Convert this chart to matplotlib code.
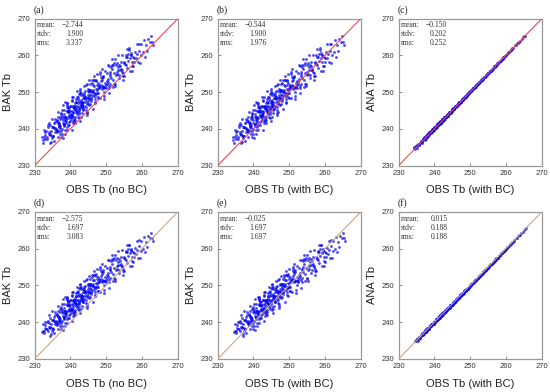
import matplotlib
matplotlib.use("Agg")
import matplotlib.pyplot as plt
import numpy as np

# OBS Tb without bias correction (same observations in both experiments)
obs_nobc = [
    232.1, 233.5, 232.7, 233.9, 232.4, 233.2, 232.9, 233.7, 232.2, 233.0, 233.4, 232.6, 233.8, 232.8,
    234.3, 235.6, 234.9, 235.2, 234.1, 235.8, 234.6, 235.4, 234.8, 235.0, 234.2, 235.7, 234.5, 235.3, 234.7, 235.9, 234.0, 235.5, 234.4, 235.1, 234.9, 235.6, 234.3, 235.2,
    236.2, 237.5, 236.8, 237.1, 236.4, 237.8, 236.6, 237.3, 236.0, 237.6, 236.9, 237.2, 236.3, 237.9, 236.7, 237.4, 236.1, 237.0, 236.5, 237.7, 236.8, 237.3, 236.2, 237.5, 236.9, 237.1, 236.4, 237.8, 236.6, 237.2, 236.3, 237.6, 236.7, 237.4,
    238.1, 239.4, 238.7, 239.0, 238.3, 239.8, 238.5, 239.2, 238.9, 239.6, 238.2, 239.5, 238.8, 239.1, 238.4, 239.7, 238.6, 239.3, 238.0, 239.9, 238.7, 239.4, 238.3, 239.0, 238.5, 239.6, 238.9, 239.2, 238.1, 239.8, 238.6, 239.5, 238.4, 239.1, 238.8, 239.3, 238.2, 239.7, 238.5, 239.0, 238.9, 239.4, 238.3, 239.6,
    240.2, 241.5, 240.8, 241.1, 240.4, 241.9, 240.6, 241.3, 240.0, 241.7, 240.9, 241.2, 240.3, 241.6, 240.7, 241.0, 240.5, 241.8, 240.1, 241.4, 240.8, 241.2, 240.4, 241.5, 240.6, 241.9, 240.2, 241.3, 240.9, 241.1, 240.3, 241.7, 240.5, 241.0, 240.7, 241.6, 240.1, 241.4, 240.8, 241.8, 240.4, 241.2, 240.6, 241.5, 240.2, 241.3,
    242.3, 243.6, 242.9, 243.1, 242.5, 243.8, 242.1, 243.4, 242.7, 243.0, 242.4, 243.7, 242.8, 243.2, 242.0, 243.5, 242.6, 243.9, 242.2, 243.3, 242.9, 243.1, 242.4, 243.6, 242.7, 243.0, 242.3, 243.8, 242.5, 243.4, 242.1, 243.2, 242.8, 243.7, 242.6, 243.5, 242.2, 243.0, 242.9, 243.3, 242.4, 243.9, 242.7, 243.1,
    244.2, 245.5, 244.8, 245.1, 244.4, 245.8, 244.6, 245.3, 244.0, 245.7, 244.9, 245.2, 244.3, 245.6, 244.7, 245.0, 244.5, 245.9, 244.1, 245.4, 244.8, 245.2, 244.3, 245.5, 244.6, 245.8, 244.2, 245.1, 244.9, 245.3, 244.4, 245.6, 244.7, 245.0, 244.5, 245.4, 244.1, 245.7,
    246.3, 247.6, 246.9, 247.1, 246.5, 247.8, 246.1, 247.4, 246.7, 247.0, 246.4, 247.7, 246.8, 247.2, 246.0, 247.5, 246.6, 247.9, 246.2, 247.3, 246.9, 247.1, 246.4, 247.6, 246.7, 247.0, 246.3, 247.8, 246.5, 247.4, 246.1, 247.2,
    248.2, 249.5, 248.8, 249.1, 248.4, 249.8, 248.6, 249.3, 248.0, 249.7, 248.9, 249.2, 248.3, 249.6, 248.7, 249.0, 248.5, 249.9, 248.1, 249.4, 248.8, 249.2, 248.4, 249.5, 248.6, 249.1,
    250.3, 251.6, 250.9, 251.1, 250.5, 251.8, 250.1, 251.4, 250.7, 251.0, 250.4, 251.7, 250.8, 251.2, 250.0, 251.5, 250.6, 251.9, 250.2, 251.3, 250.9, 251.1,
    252.2, 253.5, 252.8, 253.1, 252.4, 253.8, 252.6, 253.3, 252.0, 253.7, 252.9, 253.2, 252.3, 253.6, 252.7, 253.0, 252.5, 253.9, 252.1, 253.4,
    254.3, 255.6, 254.9, 255.1, 254.5, 255.8, 254.1, 255.4, 254.7, 255.0, 254.4, 255.7, 254.8, 255.2, 254.0, 255.5, 254.6, 255.9,
    256.2, 257.5, 256.8, 257.1, 256.4, 257.8, 256.6, 257.3, 256.0, 257.7, 256.9, 257.2, 256.3, 257.6, 256.7, 257.0,
    258.3, 259.6, 258.9, 259.1, 258.5, 259.8, 258.1, 259.4, 258.7, 259.2,
    260.4, 261.7, 260.9, 261.2, 260.6, 261.5,
    262.2, 263.0, 262.6, 262.9,
]

# BAK - OBS(no BC) departures, experiment 1 (top row)
bak_dep_top = [
    5.8, 4.2, 6.9, 5.1, 3.6, 6.3, 5.5, 7.4, 4.7, 6.0, 3.9, 5.3, 6.6, 4.5,
    4.1, 6.2, 2.5, 5.3, 7.6, 3.4, 4.9, 1.2, 5.8, 3.0, 6.7, 4.4, 2.0, 5.0, 8.1, 3.7, 4.6, 6.0, 1.7, 5.5, 3.2, 7.0, 4.2, 2.8,
    3.1, 5.9, 4.5, 1.6, 6.8, 3.8, 5.2, 0.4, 4.0, 7.5, 2.6, 5.6, 3.4, 8.6, 4.8, 2.1, 6.3, 3.7, 5.0, 0.9, 4.3, 7.0, 2.9, 5.4, 3.5, 6.1, 1.3, 4.7, 8.0, 3.0, 5.8, 2.4, 4.1, 6.6,
    2.8, 5.5, 4.0, 0.6, 6.9, 3.3, 4.7, 1.9, 8.2, 3.9, 5.8, 2.4, 4.4, 7.3, 1.2, 5.1, 3.6, 6.4, -0.5, 4.9, 2.9, 5.3, 3.1, 7.9, 4.6, 1.5, 6.0, 3.7, 5.0, 2.2, 8.8, 4.3, 0.2, 5.7, 3.4, 6.7, 2.6, 4.8, 4.1, 7.0, 1.7, 5.4, 3.0, 6.2,
    3.5, 5.9, 1.4, 4.6, 7.4, 2.7, 4.1, 0.3, 6.3, 3.2, 5.1, 2.0, 8.3, 3.8, 5.6, 1.0, 4.4, 6.8, 2.5, 3.6, 7.9, 4.9, -0.6, 3.0, 5.3, 2.2, 6.1, 4.0, 1.7, 5.0, 3.4, 8.6, 2.9, 4.7, 0.8, 6.5, 3.9, 5.5, 2.4, 4.3, 7.1, 1.3, 3.7, 5.8, 3.1, 4.5,
    2.4, 4.8, 6.9, 3.3, 0.5, 5.4, 3.9, 1.8, 7.7, 4.2, 2.9, 6.0, -0.7, 3.6, 5.1, 2.1, 8.3, 4.5, 1.1, 3.0, 6.4, 4.0, 2.6, 5.7, 3.4, 0.2, 7.2, 4.7, 1.5, 3.8, 5.9, 2.8, 4.3, 8.0, 3.1, 1.9, 6.6, 3.6, 4.9, 0.9, 5.3, 2.3, 7.0, 4.1,
    3.9, 1.2, 5.6, 2.7, 7.4, 3.3, 0.1, 4.6, 6.2, 2.0, 3.7, 8.0, 1.6, 5.0, 2.9, 4.2, -0.8, 6.7, 3.1, 4.8, 2.3, 5.4, 0.8, 3.6, 7.7, 2.6, 4.4, 1.4, 5.9, 3.0, 4.0, 6.5, 2.1, 3.4, -0.3, 5.2, 4.7, 2.5,
    2.6, 4.9, 0.5, 3.7, 6.8, 1.9, 4.3, 7.6, 2.9, 0.0, 5.5, 3.4, 1.3, 6.2, 4.0, 2.3, 7.9, 3.1, -0.9, 4.6, 2.0, 5.8, 3.6, 1.0, 6.5, 2.8, 4.4, 0.7, 5.2, 3.3, 7.2, 2.4,
    3.2, 0.6, 5.1, 2.4, 7.0, 1.5, 4.3, -1.2, 3.7, 6.0, 2.0, 4.8, 0.1, 3.0, 7.5, 2.7, 5.6, 1.1, 3.9, -0.4, 4.5, 2.2, 6.5, 1.7, 3.4, 5.3,
    2.0, 4.6, 0.3, 3.3, 6.8, 1.4, 2.9, 5.5, -1.0, 3.8, 2.4, 7.2, 0.9, 4.2, 1.8, 5.9, 3.0, -0.5, 4.9, 2.6, 6.3, 1.2,
    2.9, 0.4, 4.5, 1.7, 6.5, 2.2, -0.9, 3.6, 5.3, 1.0, 2.7, 6.9, 0.0, 3.9, 1.9, 4.8, -0.3, 3.1, 5.7, 2.5,
    1.6, 3.9, -0.6, 2.8, 5.6, 0.8, 2.2, 4.6, -1.5, 3.3, 1.2, 6.0, 0.3, 2.5, 4.2, 1.9, -0.2, 3.6,
    2.3, -0.4, 3.8, 1.2, 5.2, 0.5, 2.8, -1.6, 4.4, 1.6, 3.3, 0.0, 5.6, 2.0, -0.9, 3.0,
    1.0, 3.4, -0.8, 2.2, 4.5, 0.3, 2.8, -1.4, 1.7, 3.9,
    0.4, 2.7, -1.2, 1.6, 3.6, -0.3,
    1.5, -0.2, 2.6, 0.8,
]

# BAK - OBS(no BC) departures, experiment 2 (bottom row)
bak_dep_bot = [
    5.2, 6.6, 4.3, 5.9, 7.1, 4.8, 6.2, 3.9, 5.5, 6.9, 4.6, 5.0, 6.4, 5.7,
    4.5, 6.3, 2.6, 5.4, 7.8, 3.6, 4.8, 1.5, 5.9, 3.2, 6.8, 4.2, 2.2, 5.1, 8.2, 3.9, 4.6, 6.0, 1.9, 5.6, 3.4, 7.2, 4.1, 3.0,
    3.3, 5.8, 4.4, 1.8, 6.6, 3.9, 5.1, 0.9, 4.2, 7.4, 2.8, 5.5, 3.6, 8.3, 4.7, 2.3, 6.1, 3.8, 5.0, 1.2, 4.3, 6.9, 3.0, 5.3, 3.5, 6.4, 1.6, 4.8, 7.9, 3.1, 5.7, 2.6, 4.0, 6.2,
    2.9, 5.3, 4.0, 0.8, 6.7, 3.4, 4.6, 2.0, 7.9, 3.8, 5.6, 2.5, 4.3, 7.1, 1.3, 5.0, 3.5, 6.2, -0.1, 4.7, 3.0, 5.2, 3.2, 7.6, 4.4, 1.6, 5.9, 3.7, 4.9, 2.3, 8.3, 4.2, 0.5, 5.5, 3.3, 6.5, 2.7, 4.6, 4.0, 6.9, 1.9, 5.2, 3.1, 6.0,
    3.4, 5.6, 1.7, 4.4, 7.0, 2.8, 4.0, 0.6, 6.1, 3.2, 5.0, 2.1, 7.8, 3.7, 5.4, 1.3, 4.3, 6.5, 2.6, 3.5, 7.5, 4.7, 0.0, 3.0, 5.1, 2.3, 5.9, 3.9, 1.9, 4.8, 3.3, 8.0, 2.9, 4.5, 1.0, 6.3, 3.8, 5.3, 2.5, 4.2, 6.8, 1.5, 3.6, 5.7, 3.1, 4.4,
    2.5, 4.7, 6.6, 3.3, 0.8, 5.2, 3.8, 2.0, 7.3, 4.1, 3.0, 5.8, -0.3, 3.5, 5.0, 2.2, 7.7, 4.4, 1.3, 3.1, 6.2, 3.9, 2.7, 5.5, 3.4, 0.5, 6.9, 4.6, 1.7, 3.7, 5.7, 2.9, 4.2, 7.5, 3.1, 2.0, 6.4, 3.6, 4.8, 1.1, 5.1, 2.4, 6.7, 4.0,
    3.7, 1.3, 5.3, 2.7, 7.0, 3.2, 0.3, 4.4, 5.9, 2.0, 3.5, 7.4, 1.6, 4.8, 2.8, 4.0, -0.6, 6.3, 3.0, 4.6, 2.3, 5.1, 0.9, 3.4, 7.2, 2.5, 4.2, 1.4, 5.6, 2.9, 3.8, 6.1, 2.1, 3.3, -0.2, 5.0, 4.5, 2.4,
    2.5, 4.6, 0.6, 3.5, 6.4, 1.9, 4.1, 7.1, 2.8, 0.1, 5.2, 3.2, 1.3, 5.9, 3.8, 2.2, 7.3, 3.0, -0.8, 4.4, 2.0, 5.5, 3.4, 1.0, 6.1, 2.7, 4.2, 0.7, 4.9, 3.1, 6.8, 2.3,
    3.0, 0.5, 4.8, 2.2, 6.6, 1.4, 4.0, -1.3, 3.5, 5.7, 1.9, 4.5, 0.0, 2.8, 7.0, 2.5, 5.3, 1.0, 3.7, -0.6, 4.2, 2.0, 6.2, 1.6, 3.2, 5.0,
    1.8, 4.3, 0.1, 3.0, 6.4, 1.2, 2.7, 5.2, -1.3, 3.5, 2.2, 6.7, 0.7, 3.9, 1.6, 5.6, 2.8, -0.8, 4.6, 2.4, 5.9, 1.0,
    2.5, 0.0, 4.1, 1.3, 6.0, 1.8, -1.3, 3.2, 4.9, 0.6, 2.3, 6.1, -0.4, 3.5, 1.5, 4.4, -0.8, 2.7, 5.3, 2.1,
    1.1, 3.4, -1.1, 2.3, 5.1, 0.3, 1.7, 4.1, -2.0, 2.8, 0.7, 5.4, -0.2, 2.0, 3.7, 1.4, -0.7, 3.1,
    1.7, -1.0, 3.2, 0.6, 4.5, -0.1, 2.2, -2.1, 3.8, 1.0, 2.7, -0.6, 4.8, 1.4, -1.5, 2.4,
    0.3, 2.6, -1.5, 1.5, 3.6, -0.4, 2.0, -2.0, 1.0, 3.1,
    -0.4, 1.8, -1.9, 0.7, 2.7, -1.0,
    0.8, -0.9, 1.7, 0.1,
]

# constant bias corrections applied to OBS
bc_top = 2.2
bc_bot = 2.55

# ANA - OBS(with BC) departures
ana_dep_top = [
    0.5, -0.2, 0.3, 0.7, 0.0, 0.4, -0.4, 0.2, 0.6, 0.1,
    -0.1, 0.4, 0.2, 0.6, -0.3, 0.3, 0.0, 0.5, 0.1, -0.2,
    0.4, 0.2, 0.7, -0.1, 0.3, 0.0, 0.5, -0.3, 0.2, 0.4,
    0.1, 0.6, -0.2, 0.3, 0.0, 0.4, 0.2, -0.4, 0.5, 0.1,
    0.3, -0.1, 0.6, 0.2, 0.0, 0.4, -0.2, 0.3, 0.1, 0.5,
    0.2, 0.0, 0.4, -0.3, 0.6, 0.1, 0.3, -0.1, 0.2, 0.5,
    0.0, 0.3, -0.2, 0.4, 0.1, 0.6, 0.2, -0.1, 0.3, 0.0,
    0.5, 0.1, 0.2, -0.3, 0.4, 0.0, 0.3, 0.6, -0.1, 0.2,
    0.1, 0.4, -0.2, 0.3, 0.0, 0.5, 0.2, -0.1, 0.3, 0.1,
    0.4, -0.3, 0.2, 0.5, 0.0, 0.3, 0.1, -0.2, 0.4, 0.2,
    0.0, 0.3, 0.6, -0.1, 0.2, 0.4, 0.1, -0.2, 0.3, 0.0,
    0.5, 0.2, -0.1, 0.3, 0.1, 0.4, 0.0, 0.2, -0.3, 0.3,
    0.2, 0.0, 0.3, 0.1, 0.4, -0.1, 0.2, 0.3, 0.0, 0.1,
    0.3, 0.1, -0.2, 0.2, 0.4, 0.0, 0.1, 0.3, 0.2, -0.1,
    0.1, 0.4, 0.2, 0.0, 0.3, -0.1, 0.2, 0.1, 0.5, 0.0,
    0.2, 0.3, -0.1, 0.1, 0.2, 0.4, 0.0, 0.3, 0.1, -0.2,
    0.3, 0.0, 0.2, 0.1, -0.1, 0.4, 0.2, 0.0, 0.3, 0.1,
    0.1, 0.3, 0.0, 0.2, 0.4, -0.1, 0.1, 0.2, 0.3, 0.0,
    0.2, -0.2, 0.3, 0.1, 0.0, 0.2, 0.4, 0.1, -0.1, 0.3,
    0.0, 0.2, 0.1, 0.3, -0.1, 0.2, 0.0, 0.4, 0.1, 0.2,
    0.3, 0.1, 0.0, 0.2, -0.1, 0.3, 0.2, 0.1, 0.4, 0.0,
    0.1, 0.2, 0.3, -0.1, 0.2, 0.0, 0.1, 0.3, 0.2, 0.1,
    0.2, 0.0, 0.4, 0.1, -0.1, 0.2, 0.3, 0.0, 0.1, 0.2,
    0.0, 0.3, 0.1, 0.2, 0.0, -0.1, 0.2, 0.3, 0.1, 0.2,
    0.1, 0.2, 0.0, 0.3, 0.1, 0.2, -0.1, 0.1, 0.3, 0.0,
    0.2, 0.1, 0.0, 0.2, 0.3, 0.1, 0.2, 0.0, 0.1, 0.2,
    0.1, 0.3, 0.0, 0.2, 0.1, 0.2, 0.0, 0.3, 0.1, 0.2,
    0.0, 0.2, 0.1, 0.1, 0.3, 0.0, 0.2, 0.1, 0.2, 0.0,
    0.3, 0.1, 0.2, 0.0, 0.1, 0.2, 0.1, 0.3, 0.0, 0.2,
    0.1, 0.0, 0.2, 0.1, 0.3, 0.1, 0.0, 0.2, 0.1, 0.2,
    0.2, 0.1, 0.0, 0.3, 0.1, 0.2, 0.1, 0.0, 0.2, 0.1,
    0.0, 0.2, 0.1, 0.2, 0.0, 0.3, 0.1, 0.2, 0.1, 0.0,
    0.2, 0.1, 0.3, 0.0, 0.2, 0.1, 0.1, 0.2, 0.0, 0.1,
    0.1, 0.2, 0.0, 0.1, 0.2, 0.3, 0.1, 0.0, 0.2, 0.1,
    0.2, 0.0, 0.1, 0.2, 0.1, 0.0, 0.2, 0.1, 0.3, 0.1,
    0.1, 0.2, 0.1, 0.0, 0.2, 0.1, 0.2, 0.0, 0.1, 0.2,
    0.0, 0.1, 0.2, 0.1, 0.1, 0.2, 0.0, 0.2, 0.1, 0.1,
    0.2, 0.1, 0.0, 0.1, 0.2, 0.1, 0.1, 0.0, 0.2, 0.1,
    0.1, 0.2, 0.1, 0.1, 0.0, 0.2, 0.1, 0.2, 0.1, 0.1,
    0.2, 0.1, 0.1, 0.0, 0.1, 0.2, 0.1, 0.1, 0.2, 0.1,
]
ana_dep_bot = [
    0.3, -0.4, 0.1, 0.5, -0.2, 0.2, -0.5, 0.0, 0.4, -0.1,
    -0.3, 0.2, 0.0, 0.4, -0.4, 0.1, -0.2, 0.3, -0.1, -0.3,
    0.2, 0.0, 0.5, -0.2, 0.1, -0.1, 0.3, -0.4, 0.0, 0.2,
    -0.1, 0.4, -0.3, 0.1, -0.2, 0.2, 0.0, -0.5, 0.3, -0.1,
    0.1, -0.2, 0.4, 0.0, -0.1, 0.2, -0.3, 0.1, -0.1, 0.3,
    0.0, -0.2, 0.2, -0.4, 0.4, -0.1, 0.1, -0.2, 0.0, 0.3,
    -0.2, 0.1, -0.3, 0.2, -0.1, 0.4, 0.0, -0.2, 0.1, -0.1,
    0.3, -0.1, 0.0, -0.4, 0.2, -0.2, 0.1, 0.4, -0.3, 0.0,
    -0.1, 0.2, -0.3, 0.1, -0.1, 0.3, 0.0, -0.2, 0.1, -0.1,
    0.2, -0.4, 0.0, 0.3, -0.2, 0.1, -0.1, -0.3, 0.2, 0.0,
    -0.2, 0.1, 0.4, -0.2, 0.0, 0.2, -0.1, -0.3, 0.1, -0.1,
    0.3, 0.0, -0.2, 0.1, -0.1, 0.2, -0.2, 0.0, -0.4, 0.1,
    0.0, -0.2, 0.1, -0.1, 0.2, -0.3, 0.0, 0.1, -0.2, -0.1,
    0.1, -0.1, -0.3, 0.0, 0.2, -0.2, -0.1, 0.1, 0.0, -0.2,
    -0.1, 0.2, 0.0, -0.2, 0.1, -0.3, 0.0, -0.1, 0.3, -0.2,
    0.0, 0.1, -0.2, -0.1, 0.0, 0.2, -0.2, 0.1, -0.1, -0.3,
    0.1, -0.2, 0.0, -0.1, -0.2, 0.2, 0.0, -0.2, 0.1, -0.1,
    -0.1, 0.1, -0.2, 0.0, 0.2, -0.2, -0.1, 0.0, 0.1, -0.2,
    0.0, -0.3, 0.1, -0.1, -0.2, 0.0, 0.2, -0.1, -0.2, 0.1,
    -0.2, 0.0, -0.1, 0.1, -0.2, 0.0, -0.2, 0.2, -0.1, 0.0,
    0.1, -0.1, -0.2, 0.0, -0.2, 0.1, 0.0, -0.1, 0.2, -0.2,
    -0.1, 0.0, 0.1, -0.2, 0.0, -0.2, -0.1, 0.1, 0.0, -0.1,
    0.0, -0.2, 0.2, -0.1, -0.2, 0.0, 0.1, -0.2, -0.1, 0.0,
    -0.2, 0.1, -0.1, 0.0, -0.2, -0.1, 0.0, 0.1, -0.1, 0.0,
    -0.1, 0.0, -0.2, 0.1, -0.1, 0.0, -0.2, -0.1, 0.1, -0.2,
    0.0, -0.1, -0.2, 0.0, 0.1, -0.1, 0.0, -0.2, -0.1, 0.0,
    -0.1, 0.1, -0.2, 0.0, -0.1, 0.0, -0.2, 0.1, -0.1, 0.0,
    -0.2, 0.0, -0.1, -0.1, 0.1, -0.2, 0.0, -0.1, 0.0, -0.2,
    0.1, -0.1, 0.0, -0.2, -0.1, 0.0, -0.1, 0.1, -0.2, 0.0,
    -0.1, -0.2, 0.0, -0.1, 0.1, -0.1, -0.2, 0.0, -0.1, 0.0,
    0.0, -0.1, -0.2, 0.1, -0.1, 0.0, -0.1, -0.2, 0.0, -0.1,
    -0.2, 0.0, -0.1, 0.0, -0.2, 0.1, -0.1, 0.0, -0.1, -0.2,
    0.0, -0.1, 0.1, -0.2, 0.0, -0.1, -0.1, 0.0, -0.2, -0.1,
    -0.1, 0.0, -0.2, -0.1, 0.0, 0.1, -0.1, -0.2, 0.0, -0.1,
    0.0, -0.2, -0.1, 0.0, -0.1, -0.2, 0.0, -0.1, 0.1, -0.1,
    -0.1, 0.0, -0.1, -0.2, 0.0, -0.1, 0.0, -0.2, -0.1, 0.0,
    -0.2, -0.1, 0.0, -0.1, -0.1, 0.0, -0.2, 0.0, -0.1, -0.1,
    0.0, -0.1, -0.2, -0.1, 0.0, -0.1, -0.1, -0.2, 0.0, -0.1,
    -0.1, 0.0, -0.1, -0.1, -0.2, 0.0, -0.1, 0.0, -0.1, -0.1,
    0.0, -0.1, -0.1, -0.2, -0.1, 0.0, -0.1, -0.1, 0.0, -0.1,
]

panel_labels = ["(a)", "(b)", "(c)", "(d)", "(e)", "(f)"]
x_labels = ["OBS Tb (no BC)", "OBS Tb (with BC)", "OBS Tb (with BC)"]
y_labels = ["BAK Tb", "BAK Tb", "ANA Tb"]
stat_names = ["mean:", "stdv:", "rms:"]
stat_values = [
    ["\u22122.744", "1.900", "3.337"],
    ["\u22120.544", "1.900", "1.976"],
    ["\u22120.150", "0.202", "0.252"],
    ["\u22122.575", "1.697", "3.083"],
    ["\u22120.025", "1.697", "1.697"],
    ["0.015", "0.188", "0.188"],
]
ticks = [230, 240, 250, 260, 270]

n = min(len(obs_nobc), len(bak_dep_top), len(bak_dep_bot), len(ana_dep_top), len(ana_dep_bot))
obs = np.array(obs_nobc[:n])

rows = []
for dep, bc, adep in [(bak_dep_top, bc_top, ana_dep_top), (bak_dep_bot, bc_bot, ana_dep_bot)]:
    bak = obs + np.array(dep[:n])
    obs_bc = obs + bc
    ana = obs_bc + np.array(adep[:n])
    rows.append([(obs, bak), (obs_bc, bak), (obs_bc, ana)])

line_colors = ["#ee4a52", "#c9a58a"]

fig = plt.figure(figsize=(5.5, 3.92), dpi=100)
W, H = 550.0, 392.0
lefts = [34.7, 217.7, 398.7]
tops = [18.7, 212.0]
aw, ah = 143.0, 146.8

for r in range(2):
    for c in range(3):
        ax = fig.add_axes([lefts[c] / W, (H - tops[r] - ah) / H, aw / W, ah / H])
        xs, ys = rows[r][c]
        ax.scatter(xs, ys, s=4.2, color="#0a0aee", alpha=0.72, linewidths=0, zorder=2)
        ax.plot([230, 270], [230, 270], color=line_colors[r], lw=0.8, zorder=3)
        ax.set_xlim(230, 270)
        ax.set_ylim(230, 270)
        ax.set_xticks(ticks)
        ax.set_yticks(ticks)
        ax.tick_params(direction="in", length=2.5, width=0.6, color="#777777",
                       labelsize=5.5, labelcolor="#333333", pad=3)
        for sp in ax.spines.values():
            sp.set_color("#999999")
            sp.set_linewidth(0.9)
        ax.set_xlabel(x_labels[c], fontsize=8, family="Liberation Sans", color="#222222", va="center")
        ax.set_ylabel(y_labels[c], fontsize=8, family="Liberation Sans", color="#222222", va="center")
        ax.xaxis.set_label_coords(0.5, -0.17)
        ax.yaxis.set_label_coords(-0.19, 0.5)
        for lab in ax.get_xticklabels() + ax.get_yticklabels():
            lab.set_family("Liberation Sans")
        k = r * 3 + c
        ax.text(-0.01, 1.06, panel_labels[k], transform=ax.transAxes, fontsize=7,
                family="Liberation Serif", ha="left", va="center", color="#222222")
        for i in range(3):
            yy = 0.955 - i * 0.061
            ax.text(0.015, yy, stat_names[i], transform=ax.transAxes, fontsize=5.5,
                    family="Liberation Serif", ha="left", va="center", color="#333333")
            ax.text(0.34, yy, stat_values[k][i], transform=ax.transAxes, fontsize=5.5,
                    family="Liberation Serif", ha="right", va="center", color="#333333")

fig.savefig("out.png", dpi=100)
